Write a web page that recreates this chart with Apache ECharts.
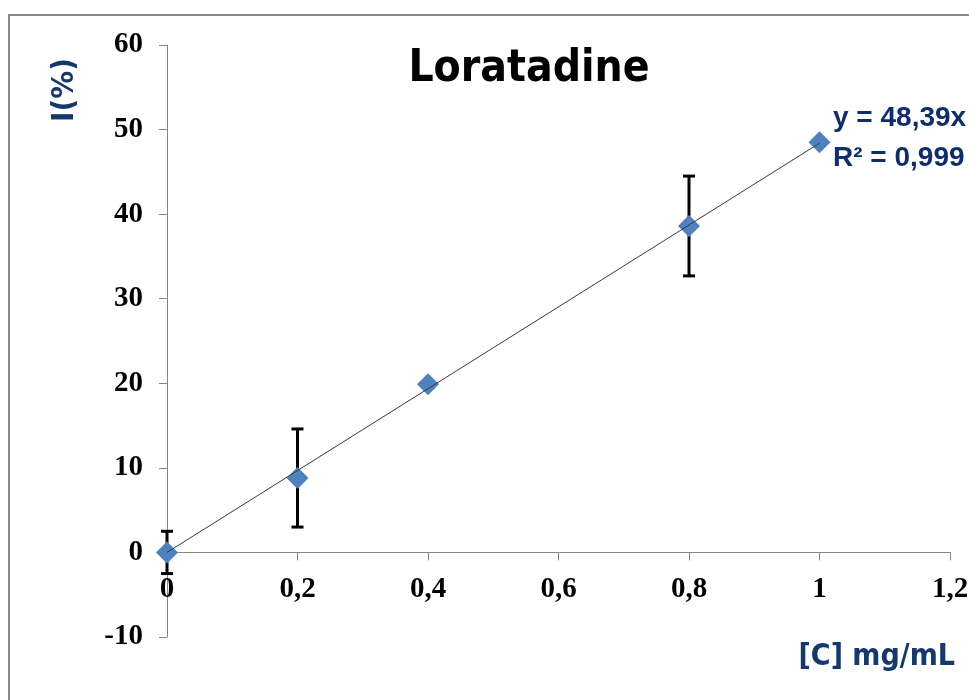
<!DOCTYPE html>
<html><head><meta charset="utf-8">
<script src="https://cdn.jsdelivr.net/npm/echarts@6/dist/echarts.min.js"></script>
<style>html,body{margin:0;padding:0;background:#fff}#c{width:969px;height:700px}</style>
</head><body><div id="c"></div>
<script>
const concentrations = [0, 0.2, 0.4, 0.8, 1];
const inhibition = [0, 8.8, 19.9, 38.6, 48.5];
const errorBars = [2.5, 5.8, 0, 5.9, 0];
const trendX = [0, 1];
const trendY = [0, 48.39];
const xTicks = [0, 0.2, 0.4, 0.6, 0.8, 1, 1.2];
const yTicks = [-10, 0, 10, 20, 30, 40, 50, 60];
const titleText = 'Loratadine';
const xName = '[C] mg/mL';
const yName = 'I(%)';
const eqText = 'y = 48,39x';
const r2Text = 'R² = 0,999';

const chart = echarts.init(document.getElementById('c'), null, {renderer: 'canvas'});
const navy = '#17386b';
const condensed = '"DejaVu Sans Condensed", "Liberation Sans Narrow", sans-serif';
const tickFont = {fontFamily: '"Liberation Serif", "Times New Roman", serif', fontWeight: 'bold', fontSize: 29, color: '#000'};
const gridBottom = 63;
chart.setOption({
  animation: false,
  backgroundColor: '#fff',
  title: {text: titleText, left: 524, top: 43, textAlign: 'center',
    textStyle: {fontFamily: condensed, fontWeight: 'bold', fontSize: 44, color: '#000'}},
  grid: {left: 167, right: 19, top: 45, bottom: gridBottom, containLabel: false, outerBoundsMode: 'none'},
  xAxis: {type: 'value', min: xTicks[0], max: xTicks[xTicks.length - 1], interval: 0.2,
    axisLine: {onZero: false, lineStyle: {color: '#868686', width: 1}},
    axisTick: {show: true, length: 8, inside: false, lineStyle: {color: '#868686'}},
    splitLine: {show: false},
    axisLabel: Object.assign({margin: 23, formatter: v => String(Math.round(v * 10) / 10).replace('.', ',')}, tickFont)
  },
  yAxis: {type: 'value', min: yTicks[0], max: yTicks[yTicks.length - 1], interval: 10,
    axisLine: {show: true, onZero: false, lineStyle: {color: '#868686', width: 1}},
    axisTick: {show: true, length: 8, lineStyle: {color: '#868686'}},
    splitLine: {show: false},
    axisLabel: Object.assign({margin: 24}, tickFont)
  },
  graphic: [
    {type: 'rect', shape: {x: 9, y: 15, width: 1200, height: 900}, style: {fill: 'none', stroke: '#898989', lineWidth: 2}, silent: true, z: 100},
    {type: 'text', x: 65, y: 90, rotation: Math.PI / 2, style: {text: yName, fontFamily: condensed, fontWeight: 'bold', fontSize: 31, fill: navy, align: 'center', verticalAlign: 'middle'}, z: 100},
    {type: 'text', x: 955, y: 657, style: {text: xName, fontFamily: condensed, fontWeight: 'bold', fontSize: 30, fill: navy, align: 'right', verticalAlign: 'middle'}, z: 100},
    {type: 'text', x: 833, y: 104, style: {text: eqText, fontFamily: '"Liberation Sans", Arial, sans-serif', fontWeight: 'bold', fontSize: 28, fill: '#0f2d69', align: 'left', verticalAlign: 'top'}, z: 100},
    {type: 'text', x: 833, y: 144, style: {text: r2Text, fontFamily: '"Liberation Sans", Arial, sans-serif', fontWeight: 'bold', fontSize: 28, fill: '#0f2d69', align: 'left', verticalAlign: 'top'}, z: 100}
  ],
  series: [
    {type: 'custom', z: 1,
      data: concentrations.map((x, i) => [x, inhibition[i], errorBars[i]]),
      renderItem: (params, api) => {
        const x = api.value(0), y = api.value(1), e = api.value(2);
        if (!e) return null;
        const top = api.coord([x, y + e]);
        const bot = api.coord([x, y - e]);
        const st = {stroke: '#000', lineWidth: 3};
        return {type: 'group', children: [
          {type: 'line', shape: {x1: top[0], y1: top[1], x2: bot[0], y2: bot[1]}, style: st},
          {type: 'line', shape: {x1: top[0] - 6, y1: top[1], x2: top[0] + 6, y2: top[1]}, style: st},
          {type: 'line', shape: {x1: bot[0] - 6, y1: bot[1], x2: bot[0] + 6, y2: bot[1]}, style: st}
        ]};
      }
    },
    {type: 'scatter', z: 2, symbol: 'diamond', symbolSize: 22,
      itemStyle: {color: '#4f81bd', opacity: 1},
      data: concentrations.map((x, i) => [x, inhibition[i]])},
    {type: 'line', z: 3, symbol: 'none', lineStyle: {color: '#3a3a3a', width: 1},
      data: trendX.map((x, i) => [x, trendY[i]])}
  ]
});
// Move the x axis (line, ticks, labels) up to y = 0 using the library's own scale.
const zeroY = chart.convertToPixel({yAxisIndex: 0}, 0);
const bottomY = chart.convertToPixel({yAxisIndex: 0}, yTicks[0]);
chart.setOption({xAxis: {offset: zeroY - bottomY}});
</script></body></html>
